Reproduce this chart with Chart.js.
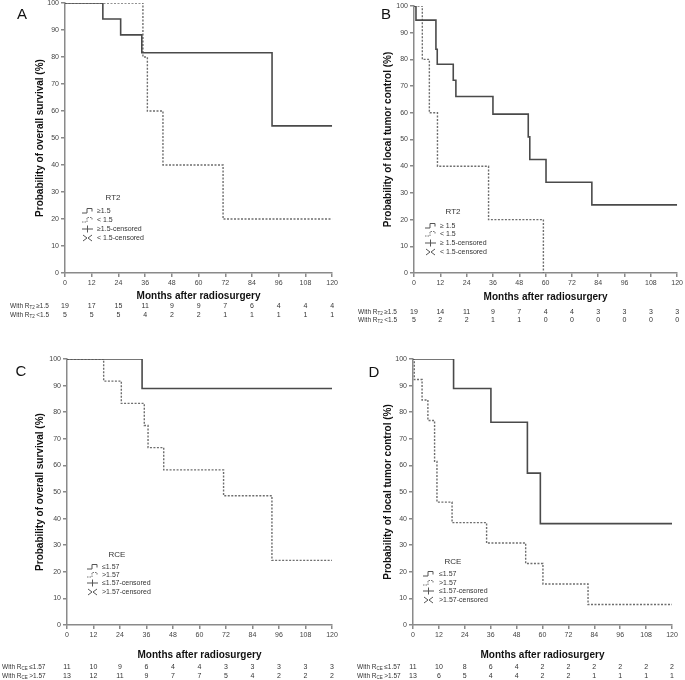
<!DOCTYPE html>
<html>
<head>
<meta charset="utf-8">
<script src="https://cdn.jsdelivr.net/npm/chart.js@4.4.1/dist/chart.umd.min.js"></script>
<style>
  body { margin: 0; background: #fff; width: 685px; height: 680px; position: relative; overflow: hidden; }
  canvas { position: absolute; }
</style>
</head>
<body>
<canvas id="chartA" width="340" height="330" style="left:0;top:0"></canvas>
<canvas id="chartB" width="345" height="330" style="left:340px;top:0"></canvas>
<canvas id="chartC" width="340" height="345" style="left:0;top:335px"></canvas>
<canvas id="chartD" width="345" height="345" style="left:340px;top:335px"></canvas>
<script>
// Meses en el eje x (y columnas de la tabla de pacientes en riesgo)
const monthTicks = [0, 12, 24, 36, 48, 60, 72, 84, 96, 108, 120];

// A - supervivencia global segun RT2
const osRt2HighMonths = [0, 17, 25, 34.5, 93, 120];
const osRt2HighPct    = [100, 94.1, 88.2, 81.6, 54.5, 54.5];
const osRt2LowMonths  = [0, 35, 37, 44, 71, 120];
const osRt2LowPct     = [100, 80, 60, 40, 20, 20];
const osRt2HighAtRisk = [19, 17, 15, 11, 9, 9, 7, 6, 4, 4, 4];
const osRt2LowAtRisk  = [5, 5, 5, 4, 2, 2, 1, 1, 1, 1, 1];

// B - control tumoral local segun RT2
const ltcRt2HighMonths = [0, 0.9, 10, 10.6, 17.9, 19.1, 36, 52.1, 52.8, 60.2, 81.1, 120];
const ltcRt2HighPct    = [100, 94.7, 83.8, 78.2, 72.2, 66.1, 59.5, 51, 42.5, 34, 25.5, 25.5];
const ltcRt2LowMonths  = [0, 3.8, 7, 10.7, 34, 59];
const ltcRt2LowPct     = [100, 80, 60, 40, 20, 0];
const ltcRt2HighAtRisk = [19, 14, 11, 9, 7, 4, 4, 3, 3, 3, 3];
const ltcRt2LowAtRisk  = [5, 2, 2, 1, 1, 0, 0, 0, 0, 0, 0];

// C - supervivencia global segun RCE
const osRceLowMonths  = [0, 34, 120];
const osRceLowPct     = [100, 88.9, 88.9];
const osRceHighMonths = [0, 16.6, 24.6, 35, 36.7, 43.8, 70.9, 92.8, 120];
const osRceHighPct    = [100, 91.7, 83.3, 75, 66.7, 58.3, 48.6, 24.3, 24.3];
const osRceLowAtRisk  = [11, 10, 9, 6, 4, 4, 3, 3, 3, 3, 3];
const osRceHighAtRisk = [13, 12, 11, 9, 7, 7, 5, 4, 2, 2, 2];

// D - control tumoral local segun RCE
const ltcRceLowMonths  = [0, 18.8, 36.1, 53, 59, 120];
const ltcRceLowPct     = [100, 88.9, 76.2, 57.1, 38.1, 38.1];
const ltcRceHighMonths = [0, 0.6, 4.2, 6.9, 10, 11.1, 18.1, 34.1, 52.2, 60.2, 81.1, 120];
const ltcRceHighPct    = [100, 92.3, 84.6, 76.9, 61.5, 46.2, 38.5, 30.8, 23.1, 15.4, 7.7, 7.7];
const ltcRceLowAtRisk  = [11, 10, 8, 6, 4, 2, 2, 2, 2, 2, 2];
const ltcRceHighAtRisk = [13, 6, 5, 4, 4, 2, 2, 1, 1, 1, 1];

const FONT = '"Liberation Sans", Arial, sans-serif';
const AXIS_COLOR = '#8a8a8a';

function toPoints(months, pct) {
  return months.map((m, i) => ({ x: m, y: pct[i] }));
}

// Dibuja letra del panel, leyenda, titulo del eje x y tabla de riesgo
const kmExtras = {
  id: 'kmExtras',
  afterDraw(chart, args, opts) {
    const { ctx, chartArea } = chart;
    const xScale = chart.scales.x;
    ctx.save();

    ctx.fillStyle = '#111';
    ctx.font = '15px ' + FONT;
    ctx.textAlign = 'center';
    ctx.textBaseline = 'middle';
    ctx.fillText(opts.letter, opts.letterX, opts.letterY);

    // leyenda
    const lg = opts.legend;
    const L = chartArea.left, B = chartArea.bottom;
    ctx.fillStyle = '#333';
    ctx.font = '8px ' + FONT;
    ctx.fillText(lg.title, L + lg.titleX, B + lg.titleY);
    ctx.font = '7px ' + FONT;
    ctx.textAlign = 'left';
    lg.labels.forEach((text, i) => {
      const y = B + lg.rows[i];
      const sx = L + lg.symX;
      ctx.strokeStyle = i === 1 ? '#777' : '#555';
      ctx.lineWidth = 1;
      ctx.setLineDash(i === 1 ? [1.5, 1] : []);
      ctx.beginPath();
      if (i < 2) {
        ctx.moveTo(sx, y + 2);
        ctx.lineTo(sx + 5, y + 2);
        ctx.lineTo(sx + 5, y - 2.5);
        ctx.lineTo(sx + 10, y - 2.5);
        ctx.lineTo(sx + 10, y + 0.5);
      } else if (i === 2) {
        ctx.moveTo(sx, y);
        ctx.lineTo(sx + 11, y);
        ctx.moveTo(sx + 5.5, y - 3.5);
        ctx.lineTo(sx + 5.5, y + 3.5);
      } else {
        ctx.moveTo(sx + 1, y - 3);
        ctx.lineTo(sx + 5, y);
        ctx.lineTo(sx + 1, y + 3);
        ctx.moveTo(sx + 10, y - 3);
        ctx.lineTo(sx + 6, y);
        ctx.lineTo(sx + 10, y + 3);
      }
      ctx.stroke();
      ctx.setLineDash([]);
      ctx.fillText(text, L + lg.textX, y);
    });

    // titulo del eje x
    ctx.fillStyle = '#111';
    ctx.textAlign = 'center';
    ctx.font = 'bold 10px ' + FONT;
    ctx.fillText('Months after radiosurgery', (chartArea.left + chartArea.right) / 2, opts.xTitleY);

    // pacientes en riesgo
    ctx.fillStyle = '#333';
    opts.risk.forEach(row => {
      ctx.textAlign = 'left';
      ctx.font = '6.5px ' + FONT;
      let x = opts.riskLabelX;
      ctx.fillText('With R', x, row.y);
      x += ctx.measureText('With R').width;
      ctx.font = '4.5px ' + FONT;
      ctx.fillText(row.sub, x, row.y + 2);
      x += ctx.measureText(row.sub).width;
      ctx.font = '6.5px ' + FONT;
      ctx.fillText(row.cut, x + 1.5, row.y);
      ctx.font = '7px ' + FONT;
      ctx.textAlign = 'center';
      row.counts.forEach((n, i) => {
        ctx.fillText(String(n), xScale.getPixelForValue(monthTicks[i]), row.y);
      });
    });
    ctx.restore();
  }
};

function makePanel(canvasId, p) {
  const ctx = document.getElementById(canvasId);
  return new Chart(ctx, {
    type: 'line',
    data: {
      datasets: [
        {
          data: toPoints(p.solidMonths, p.solidPct),
          borderColor: '#4a4a4a',
          borderWidth: 1.6,
          stepped: true,
          pointRadius: 0,
          fill: false,
        },
        {
          data: toPoints(p.dashMonths, p.dashPct),
          borderColor: '#6e6e6e',
          borderWidth: 1.4,
          borderDash: [2, 1.5],
          stepped: true,
          pointRadius: 0,
          fill: false,
        },
      ],
    },
    options: {
      responsive: false,
      animation: false,
      layout: { padding: { left: 0, top: p.top, right: p.right, bottom: 0 } },
      plugins: {
        legend: { display: false },
        tooltip: { enabled: false },
        kmExtras: p.extras,
      },
      scales: {
        x: {
          type: 'linear',
          min: 0,
          max: 120,
          afterBuildTicks: (s) => { s.ticks = monthTicks.map(v => ({ value: v })); },
          ticks: { font: { size: 7, family: FONT }, color: '#444', padding: 2, maxRotation: 0, autoSkip: false },
          grid: { drawOnChartArea: false, drawTicks: true, tickLength: 4, color: AXIS_COLOR, lineWidth: 1.5 },
          border: { display: true, color: AXIS_COLOR, width: 1.5 },
          afterFit: (s) => { s.height = p.xHeight; },
        },
        y: {
          min: 0,
          max: 100,
          ticks: { stepSize: 10, font: { size: 7, family: FONT }, color: '#444', padding: 2 },
          grid: { drawOnChartArea: false, drawTicks: true, tickLength: 4, color: AXIS_COLOR, lineWidth: 1.5 },
          border: { display: true, color: AXIS_COLOR, width: 1.5 },
          title: {
            display: true,
            text: p.yTitle,
            color: '#111',
            font: { size: 10, weight: 'bold', family: FONT },
            padding: { top: p.yTitleX - 6, bottom: 0 },
          },
          afterFit: (s) => { s.width = p.yWidth; s.paddingTop = 0; },
        },
      },
    },
    plugins: [kmExtras],
  });
}

makePanel('chartA', {
  solidMonths: osRt2HighMonths, solidPct: osRt2HighPct,
  dashMonths: osRt2LowMonths, dashPct: osRt2LowPct,
  yTitle: 'Probability of overall survival (%)', yTitleX: 40,
  yWidth: 65, xHeight: 57, top: 3, right: 7,
  extras: {
    letter: 'A', letterX: 22, letterY: 15, xTitleY: 296, riskLabelX: 10,
    legend: { title: 'RT2', titleX: 48, titleY: -75, symX: 17, textX: 32, rows: [-62, -53, -44, -35],
      labels: ['\u22651.5', '< 1.5', '\u22651.5-censored', '< 1.5-censored'] },
    risk: [
      { y: 306, sub: 'T2', cut: '\u22651.5', counts: osRt2HighAtRisk },
      { y: 315, sub: 'T2', cut: '<1.5', counts: osRt2LowAtRisk },
    ],
  },
});

makePanel('chartB', {
  solidMonths: ltcRt2HighMonths, solidPct: ltcRt2HighPct,
  dashMonths: ltcRt2LowMonths, dashPct: ltcRt2LowPct,
  yTitle: 'Probability of local tumor control (%)', yTitleX: 48,
  yWidth: 74, xHeight: 57, top: 6, right: 7,
  extras: {
    letter: 'B', letterX: 46, letterY: 15, xTitleY: 297, riskLabelX: 18,
    legend: { title: 'RT2', titleX: 39, titleY: -61, symX: 11, textX: 26, rows: [-47, -39, -30, -21],
      labels: ['\u2265 1.5', '< 1.5', '\u2265 1.5-censored', '< 1.5-censored'] },
    risk: [
      { y: 312, sub: 'T2', cut: '\u22651.5', counts: ltcRt2HighAtRisk },
      { y: 320, sub: 'T2', cut: '<1.5', counts: ltcRt2LowAtRisk },
    ],
  },
});

makePanel('chartC', {
  solidMonths: osRceLowMonths, solidPct: osRceLowPct,
  dashMonths: osRceHighMonths, dashPct: osRceHighPct,
  yTitle: 'Probability of overall survival (%)', yTitleX: 40,
  yWidth: 67, xHeight: 55, top: 24, right: 8,
  extras: {
    letter: 'C', letterX: 21, letterY: 37, xTitleY: 320, riskLabelX: 2,
    legend: { title: 'RCE', titleX: 50, titleY: -70, symX: 20, textX: 35, rows: [-58, -50, -42, -33],
      labels: ['\u22641.57', '>1.57', '\u22641.57-censored', '>1.57-censored'] },
    risk: [
      { y: 332, sub: 'CE', cut: '\u22641.57', counts: osRceLowAtRisk },
      { y: 341, sub: 'CE', cut: '>1.57', counts: osRceHighAtRisk },
    ],
  },
});

makePanel('chartD', {
  solidMonths: ltcRceLowMonths, solidPct: ltcRceLowPct,
  dashMonths: ltcRceHighMonths, dashPct: ltcRceHighPct,
  yTitle: 'Probability of local tumor control (%)', yTitleX: 48,
  yWidth: 73, xHeight: 55, top: 24, right: 13,
  extras: {
    letter: 'D', letterX: 34, letterY: 38, xTitleY: 320, riskLabelX: 17,
    legend: { title: 'RCE', titleX: 40, titleY: -63, symX: 10, textX: 26, rows: [-51, -42, -34, -25],
      labels: ['\u22641.57', '>1.57', '\u22641.57-censored', '>1.57-censored'] },
    risk: [
      { y: 332, sub: 'CE', cut: '\u22641.57', counts: ltcRceLowAtRisk },
      { y: 341, sub: 'CE', cut: '>1.57', counts: ltcRceHighAtRisk },
    ],
  },
});
</script>
</body>
</html>
